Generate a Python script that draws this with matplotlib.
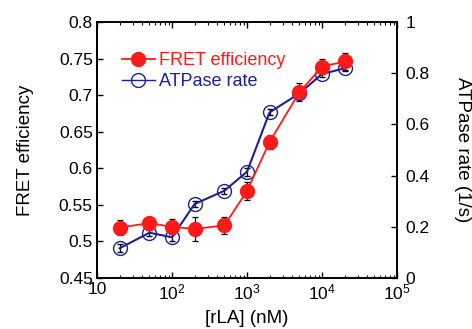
import matplotlib
matplotlib.use("Agg")
import matplotlib.pyplot as plt
from matplotlib.ticker import LogLocator, NullFormatter, FixedLocator
from matplotlib.lines import Line2D

plt.rcParams['font.family'] = ['Liberation Sans', 'DejaVu Sans']
plt.rcParams['mathtext.fontset'] = 'custom'
plt.rcParams['mathtext.rm'] = 'Liberation Sans'

conc_nM = [20, 50, 100, 200, 500, 1000, 2000, 5000, 10000, 20000]
fret = [0.519, 0.525, 0.520, 0.517, 0.522, 0.569, 0.636, 0.704, 0.739, 0.746]
fret_err = [0.010, 0.007, 0.010, 0.016, 0.012, 0.012, 0.010, 0.012, 0.010, 0.012]
atpase = [0.116, 0.177, 0.159, 0.289, 0.341, 0.415, 0.647, 0.721, 0.797, 0.819]
atpase_err = [0.015, 0.012, 0.015, 0.012, 0.012, 0.015, 0.012, 0.012, 0.012, 0.012]

left_ticks = [0.45, 0.5, 0.55, 0.6, 0.65, 0.7, 0.75, 0.8]
left_labels = ['0.45', '0.5', '0.55', '0.6', '0.65', '0.7', '0.75', '0.8']
right_ticks = [0, 0.2, 0.4, 0.6, 0.8, 1]
right_labels = ['0', '0.2', '0.4', '0.6', '0.8', '1']
x_ticks = [10, 100, 1000, 10000, 100000]
x_labels = ['10', r'$\mathregular{10^2}$', r'$\mathregular{10^3}$',
            r'$\mathregular{10^4}$', r'$\mathregular{10^5}$']

red = '#ff1a1a'
blue = '#1f1f8f'
fs_tick = 12.5
fs_lab = 13.5

fig = plt.figure(figsize=(4.72, 3.29), dpi=100)
ax = fig.add_axes([97/472, 1-278/329, 300/472, 256/329])
ax2 = ax.twinx()

ax.set_xscale('log')
ax.set_xlim(10, 1e5)
ax.set_ylim(0.45, 0.8)
ax2.set_ylim(0, 1)

ax2.errorbar(conc_nM, atpase, yerr=atpase_err, color=blue, marker='o', mfc='none',
             mec=blue, ms=10, mew=1.0, lw=1.5, ecolor='black', elinewidth=0.9,
             capsize=2.5, capthick=0.9, zorder=2)
ax.set_zorder(ax2.get_zorder() + 1)
ax.patch.set_visible(False)
ax.errorbar(conc_nM, fret, yerr=fret_err, color=red, marker='o', mfc=red,
            mec=red, ms=10, lw=1.3, ecolor='black', elinewidth=0.9,
            capsize=2.5, capthick=0.9, zorder=3)

h1 = Line2D([], [], color=red, marker='o', mfc=red, mec=red, ms=10, lw=1.3)
h2 = Line2D([], [], color=blue, marker='o', mfc='none', mec=blue, ms=10, mew=1.0, lw=1.0)
leg = ax.legend([h1, h2], ['FRET efficiency', 'ATPase rate'], loc='upper left',
                frameon=False, fontsize=13, handlelength=1.8, handletextpad=0.25,
                borderaxespad=0.0, bbox_to_anchor=(0.06, 0.91), labelspacing=0.2)
for t, c in zip(leg.get_texts(), [red, blue]):
    t.set_color(c)

ax.set_yticks(left_ticks)
ax.set_yticklabels(left_labels)
ax2.set_yticks(right_ticks)
ax2.set_yticklabels(right_labels)

ax.xaxis.set_major_locator(FixedLocator(x_ticks))
ax.set_xticklabels(x_labels)
ax.xaxis.set_minor_locator(LogLocator(base=10, subs=range(2, 10), numticks=20))
ax.xaxis.set_minor_formatter(NullFormatter())

ax.tick_params(axis='x', which='both', direction='in', top=True, labelsize=fs_tick, pad=3)
ax.tick_params(axis='x', which='major', length=4, width=1)
ax.tick_params(axis='x', which='minor', length=2, width=0.8)
ax.tick_params(axis='y', direction='in', length=4, width=1, labelsize=fs_tick, right=False, pad=3)
ax2.tick_params(axis='y', direction='in', length=4, width=1, labelsize=fs_tick, pad=6)
ax2.tick_params(axis='x', which='both', top=False, bottom=False)

for a in (ax, ax2):
    for s in a.spines.values():
        s.set_linewidth(1.2)

ax.set_xlabel('[rLA] (nM)', fontsize=fs_lab, labelpad=6)
ax.set_ylabel('FRET efficiency', fontsize=fs_lab, labelpad=18)
ax2.set_ylabel('ATPase rate (1/s)', fontsize=fs_lab, rotation=270, labelpad=30)

fig.savefig('out.png', dpi=100)
